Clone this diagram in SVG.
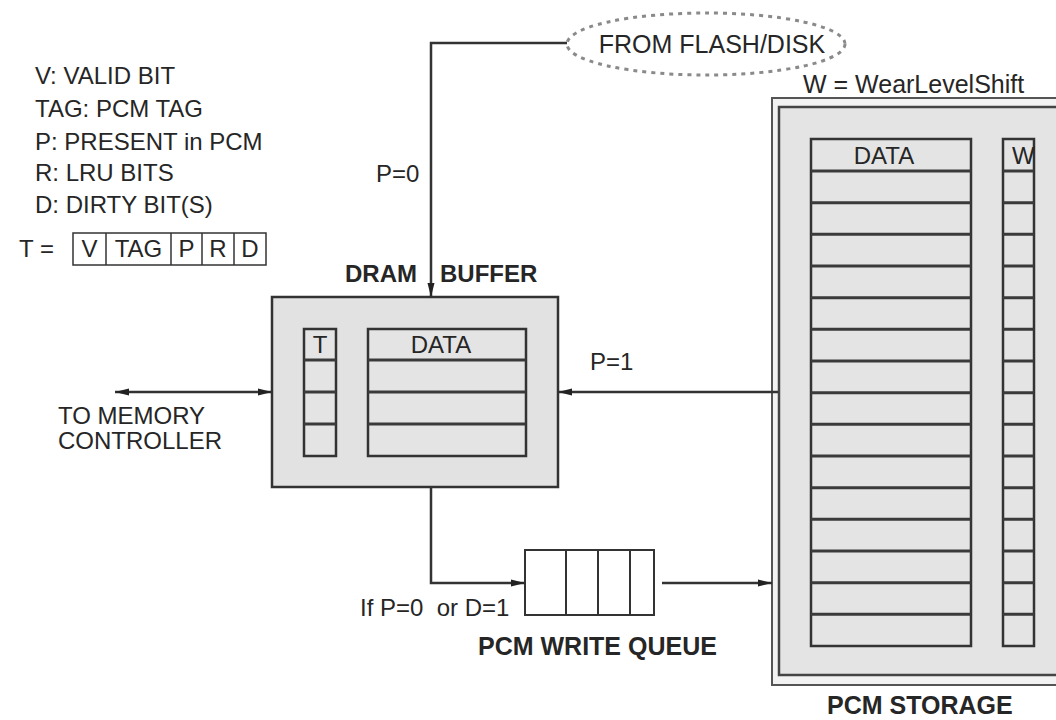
<svg xmlns="http://www.w3.org/2000/svg" width="1056" height="720" viewBox="0 0 1056 720">
<style>
text{font-family:"Liberation Sans",Arial,Helvetica,sans-serif;fill:#262626;font-size:24px}
.b{font-weight:bold}
.box{stroke:#333;stroke-width:2.5;fill:#e2e2e2}
.col{stroke:#333;stroke-width:2.5;fill:#e4e4e4}
.row{stroke:#3a3a3a;stroke-width:3}
.wire{stroke:#333;stroke-width:2.5;fill:none}
.thin{stroke:#333;stroke-width:1.5;fill:none}
</style>
<defs>
<marker id="ah" markerUnits="userSpaceOnUse" markerWidth="14" markerHeight="10" refX="14" refY="5" orient="auto-start-reverse">
<path d="M0,1.5 L14,5 L0,8.5 z" fill="#222"/>
</marker>
</defs>
<rect width="1056" height="720" fill="#fff"/>

<g id="legend">
<text x="35" y="84">V: VALID BIT</text>
<text x="35" y="117">TAG:  PCM TAG</text>
<text x="35" y="150">P: PRESENT in PCM</text>
<text x="35" y="181">R: LRU BITS</text>
<text x="35" y="213">D: DIRTY BIT(S)</text>
<text x="19" y="257">T =</text>
<rect x="73" y="233" width="193" height="32" class="thin" fill="#fff"/>
<line x1="106" y1="233" x2="106" y2="265" class="thin"/>
<line x1="171" y1="233" x2="171" y2="265" class="thin"/>
<line x1="202" y1="233" x2="202" y2="265" class="thin"/>
<line x1="234" y1="233" x2="234" y2="265" class="thin"/>
<text x="89.5" y="257" text-anchor="middle">V</text>
<text x="138.5" y="257" text-anchor="middle">TAG</text>
<text x="186.5" y="257" text-anchor="middle">P</text>
<text x="218" y="257" text-anchor="middle">R</text>
<text x="250" y="257" text-anchor="middle">D</text>
</g>

<g id="flash-disk">
<ellipse cx="706" cy="44" rx="139" ry="31" fill="none" stroke="#8a8a8a" stroke-width="3" stroke-dasharray="4 5"/>
<text x="712" y="53" text-anchor="middle" style="font-size:25px">FROM FLASH/DISK</text>
</g>

<g id="dram-buffer">
<text x="345" y="282" class="b">DRAM</text>
<text x="440" y="282" class="b">BUFFER</text>
<rect x="272" y="297" width="286" height="190" class="box"/>
<rect x="304" y="329" width="32" height="127" class="col"/>
<rect x="368" y="329" width="158" height="127" class="col"/>
<line x1="304" y1="360" x2="336" y2="360" class="row"/>
<line x1="304" y1="392" x2="336" y2="392" class="row"/>
<line x1="304" y1="424" x2="336" y2="424" class="row"/>
<line x1="368" y1="360" x2="526" y2="360" class="row"/>
<line x1="368" y1="392" x2="526" y2="392" class="row"/>
<line x1="368" y1="424" x2="526" y2="424" class="row"/>
<text x="320" y="353" text-anchor="middle">T</text>
<text x="441" y="353" text-anchor="middle">DATA</text>
</g>

<g id="write-queue">
<rect x="525" y="550" width="129" height="65" fill="#fff" stroke="#333" stroke-width="2"/>
<line x1="566" y1="550" x2="566" y2="615" stroke="#333" stroke-width="2"/>
<line x1="598" y1="550" x2="598" y2="615" stroke="#333" stroke-width="2"/>
<line x1="630" y1="550" x2="630" y2="615" stroke="#333" stroke-width="2"/>
<text x="478" y="655" class="b" style="font-size:25px">PCM WRITE QUEUE</text>
</g>

<g id="pcm-storage">
<text x="803" y="93" style="font-size:25px">W = WearLevelShift</text>
<rect x="772" y="98" width="300" height="587" fill="#f2f2f2" stroke="#555" stroke-width="2"/>
<rect x="779" y="107" width="300" height="568" fill="#e4e4e4" stroke="#444" stroke-width="2.5"/>
<rect x="811" y="139" width="160" height="507" class="col"/>
<rect x="1003" y="139" width="31" height="507" class="col"/>
<g class="row">
<path d="M811,171H971M811,202.7H971M811,234.3H971M811,266H971M811,297.7H971M811,329.3H971M811,361H971M811,392.7H971M811,424.3H971M811,456H971M811,487.7H971M811,519.3H971M811,551H971M811,582.7H971M811,614.3H971"/>
<path d="M1003,171H1034M1003,202.7H1034M1003,234.3H1034M1003,266H1034M1003,297.7H1034M1003,329.3H1034M1003,361H1034M1003,392.7H1034M1003,424.3H1034M1003,456H1034M1003,487.7H1034M1003,519.3H1034M1003,551H1034M1003,582.7H1034M1003,614.3H1034"/>
</g>
<text x="884" y="164" text-anchor="middle">DATA</text>
<text x="1012" y="164">W</text>
<text x="827" y="714" class="b" style="font-size:25px">PCM STORAGE</text>
</g>

<g id="connectors">
<path d="M567,43 H431 V297" class="wire" marker-end="url(#ah)"/>
<path d="M778,392 H558" class="wire" marker-end="url(#ah)"/>
<path d="M115,392 H272" class="wire" marker-start="url(#ah)" marker-end="url(#ah)"/>
<path d="M431,487 V583 H525" class="wire" marker-end="url(#ah)"/>
<path d="M662,583 H772" class="wire" marker-end="url(#ah)"/>
</g>

<g id="labels">
<text x="376" y="182">P=0</text>
<text x="590" y="370">P=1</text>
<text x="58" y="424" style="font-size:24px">TO MEMORY</text>
<text x="58" y="449" style="font-size:24px">CONTROLLER</text>
<text x="360" y="616" xml:space="preserve">If P=0  or D=1</text>
</g>
</svg>
